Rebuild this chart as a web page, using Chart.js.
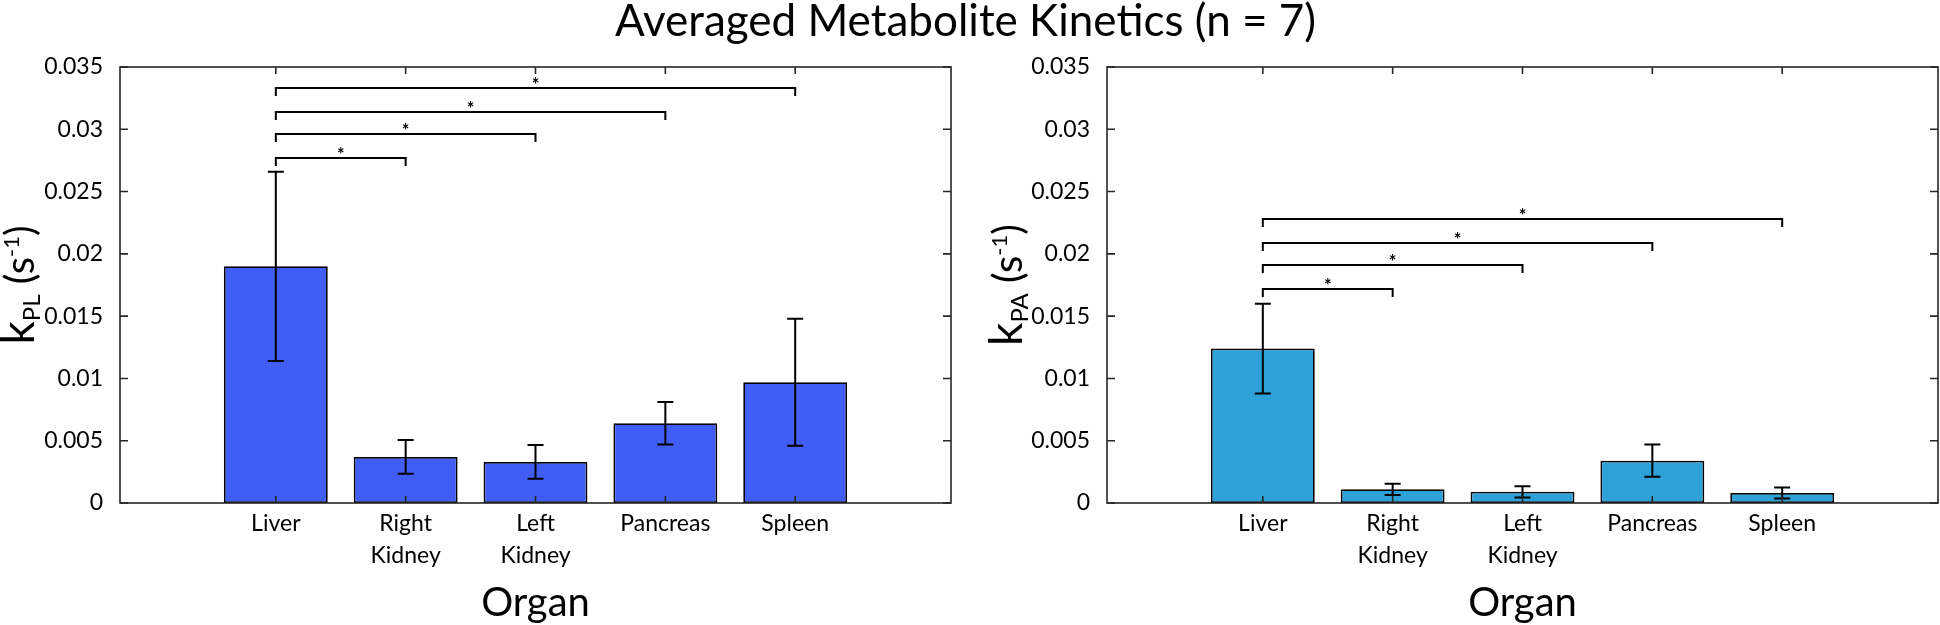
<!DOCTYPE html>
<html>
<head>
<meta charset="utf-8">
<script src="https://cdn.jsdelivr.net/npm/chart.js@4.4.1/dist/chart.umd.min.js"></script>
<style>
  body { margin: 0; background: #fff; }
  #wrap { position: relative; width: 1940px; height: 625px; font-family: Lato, sans-serif; }
  #title { position: absolute; left: 0; top: -3px; width: 1931px; text-align: center;
           font-size: 44px; line-height: 44px; color: #000; white-space: nowrap; }
  canvas { position: absolute; top: 0; }
</style>
</head>
<body>
<div id="wrap">
  <canvas id="c-pl" width="970" height="625" style="left:0"></canvas>
  <canvas id="c-pa" width="970" height="625" style="left:970px"></canvas>
  <div id="title">Averaged Metabolite Kinetics (n = 7)</div>
</div>
<script>
// organs on the x axis (multi-line labels)
const organs = [['Liver'], ['Right', 'Kidney'], ['Left', 'Kidney'], ['Pancreas'], ['Spleen']];
const yTicks = [0, 0.005, 0.01, 0.015, 0.02, 0.025, 0.03, 0.035];

// kPL: mean and error (half-length of the bar)
const kplMean = [0.0190, 0.0037, 0.0033, 0.0064, 0.0097];
const kplErr  = [0.0076, 0.00135, 0.00135, 0.0017, 0.0051];
// kPA
const kpaMean = [0.0124, 0.0011, 0.0009, 0.0034, 0.0008];
const kpaErr  = [0.0036, 0.00045, 0.00045, 0.0013, 0.00044];

// significance brackets: [from organ, to organ, height]
const kplSig = [[1, 2, 0.0277], [1, 3, 0.0296], [1, 4, 0.0314], [1, 5, 0.0333]];
const kpaSig = [[1, 2, 0.0172], [1, 3, 0.0191], [1, 4, 0.0209], [1, 5, 0.0228]];

const AX = '#262626';
const FONT = 'Lato, sans-serif';

/* ── error bars, brackets, box, ticks, axis labels ── */
const decor = {
  id: 'decor',
  afterDatasetsDraw(chart, args, o) {
    const { ctx, chartArea: a, scales: { x, y } } = chart;
    ctx.save();

    // error bars
    ctx.strokeStyle = '#000';
    ctx.lineWidth = 2;
    o.mean.forEach((v, i) => {
      const px = x.getPixelForValue(i + 1);
      const top = y.getPixelForValue(v + o.err[i]);
      const bot = y.getPixelForValue(v - o.err[i]);
      ctx.beginPath();
      ctx.moveTo(px, top); ctx.lineTo(px, bot);
      ctx.moveTo(px - 8, top); ctx.lineTo(px + 8, top);
      ctx.moveTo(px - 8, bot); ctx.lineTo(px + 8, bot);
      ctx.stroke();
    });

    // significance brackets
    ctx.font = 'bold 18px ' + FONT;
    ctx.fillStyle = '#000';
    ctx.textAlign = 'center';
    const m = ctx.measureText('*');
    o.sig.forEach(([from, to, h]) => {
      const x1 = x.getPixelForValue(from), x2 = x.getPixelForValue(to);
      const py = Math.round(y.getPixelForValue(h));
      ctx.beginPath();
      ctx.moveTo(x1, py + 8); ctx.lineTo(x1, py);
      ctx.lineTo(x2, py); ctx.lineTo(x2, py + 8);
      ctx.stroke();
      const cy = py - 8;
      ctx.fillText('*', (x1 + x2) / 2, cy + (m.actualBoundingBoxAscent - m.actualBoundingBoxDescent) / 2);
    });

    // axes box and inward ticks
    ctx.strokeStyle = AX;
    ctx.lineWidth = 1.6;
    ctx.strokeRect(a.left, a.top, a.right - a.left, a.bottom - a.top);
    ctx.beginPath();
    yTicks.forEach(t => {
      const py = y.getPixelForValue(t);
      ctx.moveTo(a.left, py); ctx.lineTo(a.left + 8, py);
      ctx.moveTo(a.right, py); ctx.lineTo(a.right - 8, py);
    });
    organs.forEach((_, i) => {
      const px = x.getPixelForValue(i + 1);
      ctx.moveTo(px, a.bottom); ctx.lineTo(px, a.bottom - 7);
      ctx.moveTo(px, a.top); ctx.lineTo(px, a.top + 7);
    });
    ctx.stroke();

    // x axis title
    ctx.fillStyle = '#000';
    ctx.font = '40px ' + FONT;
    ctx.textAlign = 'center';
    ctx.textBaseline = 'alphabetic';
    ctx.fillText('Organ', (a.left + a.right) / 2, 616);

    // y axis title: k_sub (s^-1), rotated
    const parts = [
      { t: 'k', f: 46, dy: 0 },
      { t: o.sub, f: 24, dy: 6 },
      { t: ' (s', f: 40, dy: 0 },
      { t: '-1', f: 22, dy: -15 },
      { t: ')', f: 40, dy: 0 }
    ];
    let w = 0;
    parts.forEach(p => { ctx.font = p.f + 'px ' + FONT; p.w = ctx.measureText(p.t).width; w += p.w; });
    ctx.translate(o.labelX, (a.top + a.bottom) / 2);
    ctx.rotate(-Math.PI / 2);
    ctx.textAlign = 'left';
    let cx = -w / 2;
    parts.forEach(p => {
      ctx.font = p.f + 'px ' + FONT;
      ctx.fillText(p.t, cx, p.dy);
      cx += p.w;
    });
    ctx.restore();
  }
};

function makeChart(id, mean, err, sig, color, sub, leftW, padRight, labelX) {
  return new Chart(document.getElementById(id), {
    type: 'bar',
    data: {
      datasets: [{
        data: mean.map((v, i) => ({ x: i + 1, y: v })),
        backgroundColor: color,
        borderColor: '#000',
        borderWidth: 1.8,
        borderSkipped: false,
        barPercentage: 0.8,
        categoryPercentage: 1
      }]
    },
    options: {
      responsive: false,
      animation: false,
      layout: { padding: { top: 67, right: padRight, left: 0, bottom: 0 } },
      plugins: {
        legend: { display: false },
        tooltip: { enabled: false },
        decor: { mean, err, sig, sub, labelX }
      },
      scales: {
        x: {
          type: 'linear',
          min: -0.2, max: 6.2,
          offset: false,
          grid: { display: false },
          border: { display: false },
          afterBuildTicks: s => { s.ticks = organs.map((_, i) => ({ value: i + 1 })); },
          afterFit: s => { s.height = 122; },
          ticks: {
            autoSkip: false,
            maxRotation: 0,
            padding: -3,
            color: '#000',
            font: { family: FONT, size: 23, lineHeight: 1.38 },
            callback: v => organs[v - 1]
          }
        },
        y: {
          min: 0, max: 0.035,
          grid: { display: false },
          border: { display: false },
          afterBuildTicks: s => { s.ticks = yTicks.map(v => ({ value: v })); },
          afterFit: s => { s.width = leftW; },
          ticks: {
            padding: 9,
            color: '#000',
            font: { family: FONT, size: 23 },
            callback: v => String(parseFloat(v.toFixed(4)))
          }
        }
      }
    },
    plugins: [decor]
  });
}

makeChart('c-pl', kplMean, kplErr, kplSig, '#405DF5', 'PL', 120, 19, 34);
makeChart('c-pa', kpaMean, kpaErr, kpaSig, '#2EA1D9', 'PA', 137, 2, 52);
</script>
</body>
</html>
